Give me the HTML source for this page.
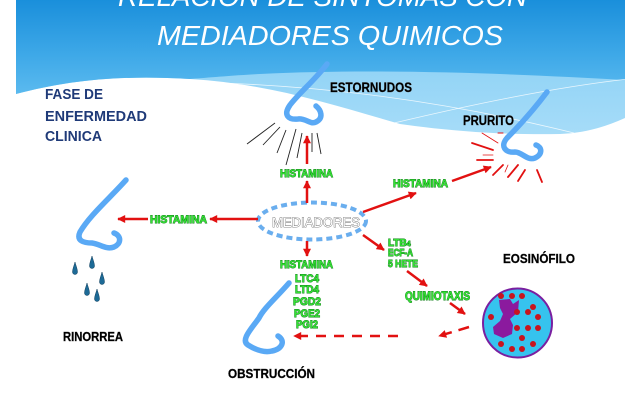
<!DOCTYPE html>
<html><head><meta charset="utf-8"><style>
html,body{margin:0;padding:0;background:#fff;}
svg{display:block;}
.t{font-family:"Liberation Sans",sans-serif;}
.g{font-family:"Liberation Sans",sans-serif;font-weight:bold;fill:#35e035;stroke:#12801a;stroke-width:0.9;paint-order:stroke fill;}
.k{font-family:"Liberation Sans",sans-serif;font-weight:bold;fill:#000;stroke:#555;stroke-width:0.4;paint-order:stroke fill;}
</style></head><body>
<svg width="640" height="400" viewBox="0 0 640 400" xmlns="http://www.w3.org/2000/svg">
<defs>
<linearGradient id="bg" x1="0" y1="0" x2="0" y2="1">
<stop offset="0" stop-color="#1a8fdb"/>
<stop offset="0.6" stop-color="#3fa9e8"/>
<stop offset="1" stop-color="#5bbaef"/>
</linearGradient>
<linearGradient id="band" x1="0" y1="0" x2="0" y2="1">
<stop offset="0" stop-color="#7ecbf4"/>
<stop offset="1" stop-color="#a6dcf8"/>
</linearGradient>
<marker id="ar" viewBox="0 0 10 10" refX="9" refY="5" markerWidth="3.6" markerHeight="3.2" orient="auto">
<path d="M0,0 L10,5 L0,10 Z" fill="#e21111"/>
</marker>
</defs>

<!-- background -->
<path d="M16,0 H625 V118 C605,127 585,133 560,134 C500,135 450,131 400,124 C330,104 270,84 190,79 C120,75 70,80 16,94 Z" fill="url(#band)"/>
<path d="M16,0 H625 V80 C520,74 380,68 260,74 C225,76 205,78 190,79 C120,75 70,80 16,94 Z" fill="url(#bg)"/>
<path d="M195,82 C300,85 420,95 574,133" fill="none" stroke="#fff" stroke-width="0.8" opacity="0.8"/>
<path d="M394,123 C470,105 550,88 628,79" fill="none" stroke="#fff" stroke-width="0.8" opacity="0.8"/>

<!-- title -->
<text class="t" x="118" y="6" font-size="28" font-style="italic" fill="#fff" textLength="409" lengthAdjust="spacingAndGlyphs">RELACION DE SINTOMAS CON</text>
<text class="t" x="157" y="45" font-size="28" font-style="italic" fill="#fff" textLength="346" lengthAdjust="spacingAndGlyphs">MEDIADORES QUIMICOS</text>

<!-- FASE DE ENFERMEDAD CLINICA -->
<text class="t" x="45" y="99" font-size="14.5" font-weight="bold" fill="#1f3a78" textLength="58" lengthAdjust="spacingAndGlyphs">FASE DE</text>
<text class="t" x="45" y="121" font-size="14.5" font-weight="bold" fill="#1f3a78" textLength="102" lengthAdjust="spacingAndGlyphs">ENFERMEDAD</text>
<text class="t" x="45" y="141" font-size="14.5" font-weight="bold" fill="#1f3a78" textLength="57" lengthAdjust="spacingAndGlyphs">CLINICA</text>

<!-- noses -->
<g fill="none" stroke="#5aa9f5" stroke-width="5.5" stroke-linecap="round" stroke-linejoin="round">
<path d="M327,64 C315,80 300,92 290,105 C283,115 288,120 298,119 C306,118 310,125 316,122 C324,118 321,110 316,106"/>
<path d="M126,180 C110,198 90,215 80,232 C76,241 84,243 92,243 C100,244 106,250 114,247 C121,244 122,236 114,233"/>
<path d="M547,92 C535,108 520,125 507,138 C500,146 505,153 515,152 C522,152 527,161 535,158 C543,154 542,147 536,145"/>
<path d="M289,283 C276,298 264,308 259,318 C252,328 240,340 248,345 C256,350 264,353 272,351 C282,349 286,341 278,336"/>
</g>

<!-- sneeze lines -->
<g stroke="#222" stroke-width="0.9">
<line x1="247" y1="144" x2="275" y2="123"/>
<line x1="263" y1="145" x2="280" y2="127"/>
<line x1="277" y1="153" x2="286" y2="130"/>
<line x1="286" y1="165" x2="296" y2="129"/>
<line x1="297" y1="158" x2="302" y2="133"/>
<line x1="312" y1="152" x2="312" y2="133"/>
<line x1="321" y1="154" x2="317" y2="133"/>
</g>

<!-- itch lines -->
<g stroke="#e21111" stroke-linecap="round">
<line x1="482" y1="133" x2="498" y2="143" stroke-width="0.8"/>
<line x1="498" y1="133" x2="503" y2="133" stroke-width="1"/>
<line x1="472" y1="143" x2="493" y2="150" stroke-width="1.8"/>
<line x1="483" y1="155" x2="493" y2="155" stroke-width="0.8"/>
<line x1="477" y1="160" x2="493" y2="160" stroke-width="1.8"/>
<line x1="493" y1="175" x2="503" y2="165" stroke-width="1.8"/>
<line x1="505" y1="172" x2="508" y2="165" stroke-width="0.8"/>
<line x1="508" y1="177" x2="518" y2="165" stroke-width="1.8"/>
<line x1="518" y1="181" x2="525" y2="170" stroke-width="1.8"/>
<line x1="537" y1="170" x2="542" y2="182" stroke-width="1.8"/>
</g>

<!-- drops -->
<g fill="#1d6a96" stroke="#0e3d5c" stroke-width="0.5">
<path d="M75,262 C76,266 77.5,269 77.5,272 A2.5,2.5 0 0 1 72.5,272 C72.5,269 74,266 75,262 Z"/>
<path d="M92,256 C93,260 94.5,263 94.5,266 A2.5,2.5 0 0 1 89.5,266 C89.5,263 91,260 92,256 Z"/>
<path d="M102,272 C103,276 104.5,279 104.5,282 A2.5,2.5 0 0 1 99.5,282 C99.5,279 101,276 102,272 Z"/>
<path d="M87,283 C88,287 89.5,290 89.5,293 A2.5,2.5 0 0 1 84.5,293 C84.5,290 86,287 87,283 Z"/>
<path d="M97,289 C98,293 99.5,296 99.5,299 A2.5,2.5 0 0 1 94.5,299 C94.5,296 96,293 97,289 Z"/>
</g>

<!-- ellipse -->
<ellipse cx="312" cy="221" rx="54" ry="18.5" fill="none" stroke="#6aaeee" stroke-width="4" stroke-dasharray="6 4"/>
<text class="t" x="272" y="227" font-size="13.5" fill="#fff" stroke="#666" stroke-width="0.8" paint-order="stroke fill" textLength="88" lengthAdjust="spacingAndGlyphs">MEDIADORES</text>

<!-- arrows -->
<g stroke="#e21111" stroke-width="2.5" fill="none" marker-end="url(#ar)">
<line x1="307" y1="203" x2="307" y2="181"/>
<line x1="307" y1="164" x2="307" y2="136"/>
<line x1="258" y1="219" x2="210" y2="219"/>
<line x1="148" y1="219" x2="118" y2="219"/>
<line x1="363" y1="212" x2="416" y2="193"/>
<line x1="452" y1="181" x2="491" y2="167"/>
<line x1="307" y1="241" x2="307" y2="256"/>
<line x1="363" y1="235" x2="384" y2="250"/>
<line x1="407" y1="271" x2="427" y2="286"/>
<line x1="450" y1="303" x2="465" y2="314"/>
<line x1="469" y1="327" x2="439" y2="336" stroke-dasharray="11 7"/>
<line x1="398" y1="336" x2="294" y2="336" stroke-dasharray="10 8"/>
</g>

<!-- green labels -->
<text class="g" x="280" y="177" font-size="11" textLength="53" lengthAdjust="spacingAndGlyphs">HISTAMINA</text>
<text class="g" x="150" y="223" font-size="11" textLength="57" lengthAdjust="spacingAndGlyphs">HISTAMINA</text>
<text class="g" x="393" y="187" font-size="11" textLength="55" lengthAdjust="spacingAndGlyphs">HISTAMINA</text>
<text class="g" x="280" y="268" font-size="11" textLength="53" lengthAdjust="spacingAndGlyphs">HISTAMINA</text>
<text class="g" x="295" y="282" font-size="11" textLength="24" lengthAdjust="spacingAndGlyphs">LTC4</text>
<text class="g" x="295" y="293" font-size="11" textLength="24" lengthAdjust="spacingAndGlyphs">LTD4</text>
<text class="g" x="293" y="305" font-size="11" textLength="28" lengthAdjust="spacingAndGlyphs">PGD2</text>
<text class="g" x="294" y="317" font-size="11" textLength="26" lengthAdjust="spacingAndGlyphs">PGE2</text>
<text class="g" x="296" y="328" font-size="11" textLength="22" lengthAdjust="spacingAndGlyphs">PGI2</text>
<text class="g" x="388" y="246" font-size="10">LTB<tspan font-size="7">4</tspan></text>
<text class="g" x="388" y="256" font-size="10" textLength="25" lengthAdjust="spacingAndGlyphs">ECF-A</text>
<text class="g" x="388" y="267" font-size="10" textLength="30" lengthAdjust="spacingAndGlyphs">5 HETE</text>
<text class="g" x="405" y="300" font-size="11.5" textLength="65" lengthAdjust="spacingAndGlyphs">QUIMIOTAXIS</text>

<!-- black labels -->
<text class="k" x="330" y="92" font-size="13.5" textLength="82" lengthAdjust="spacingAndGlyphs">ESTORNUDOS</text>
<text class="k" x="463" y="125" font-size="13.5" textLength="51" lengthAdjust="spacingAndGlyphs">PRURITO</text>
<text class="k" x="63" y="341" font-size="12.5" textLength="60" lengthAdjust="spacingAndGlyphs">RINORREA</text>
<text class="k" x="228" y="378" font-size="13" textLength="87" lengthAdjust="spacingAndGlyphs">OBSTRUCCIÓN</text>
<text class="k" x="503" y="263" font-size="13" textLength="72" lengthAdjust="spacingAndGlyphs">EOSINÓFILO</text>

<!-- eosinophil -->
<circle cx="517.5" cy="323" r="34.5" fill="#36c3ee" stroke="#7a1fa0" stroke-width="2"/>
<path d="M499,300 L510,299 L513,304 L519,300 L518,312 L510,319 L513,325 L512,334 L503,338 L494,334 L493,327 L500,321 L503,314 L500,308 Z" fill="#8b1a9e"/>
<g fill="#c8141e">
<circle cx="501" cy="296" r="3"/><circle cx="512" cy="296" r="3"/><circle cx="522" cy="296" r="3"/>
<circle cx="533" cy="307" r="3"/><circle cx="528" cy="312" r="3"/><circle cx="517" cy="312" r="3"/>
<circle cx="538" cy="317" r="3"/><circle cx="491" cy="317" r="3"/><circle cx="517" cy="328" r="3"/>
<circle cx="528" cy="328" r="3"/><circle cx="538" cy="328" r="3"/><circle cx="522" cy="338" r="3"/>
<circle cx="501" cy="344" r="3"/><circle cx="533" cy="344" r="3"/><circle cx="512" cy="349" r="3"/>
<circle cx="522" cy="349" r="3"/>
</g>
</svg>
</body></html>
